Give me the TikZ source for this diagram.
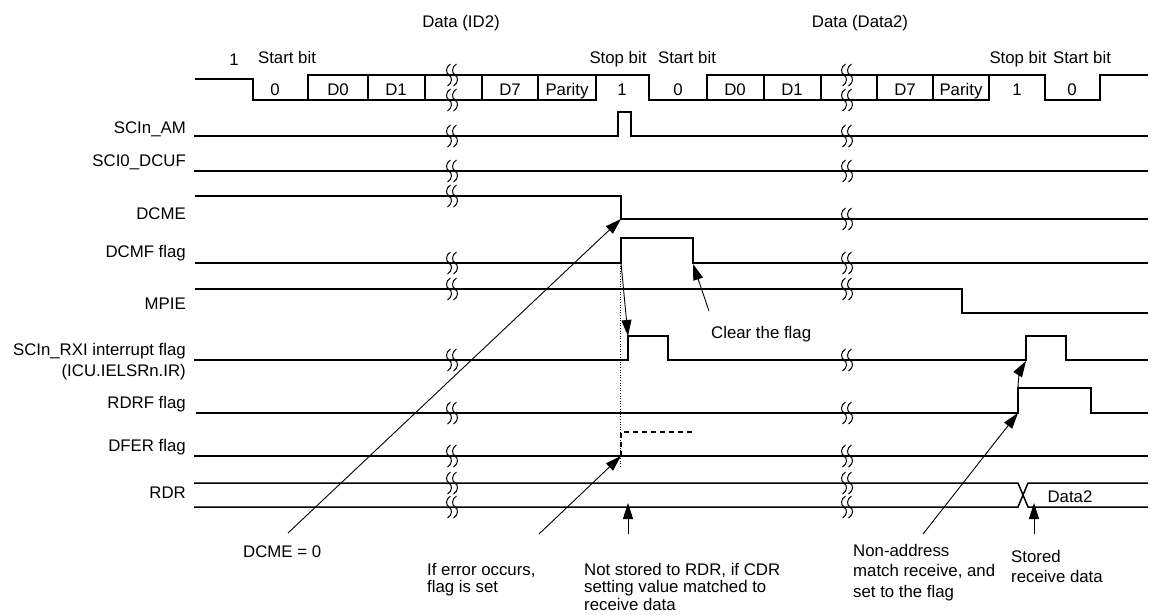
\documentclass[tikz,border=0pt]{standalone}
\usepackage{fontspec}
\setmainfont{Liberation Sans}
\usetikzlibrary{arrows.meta,positioning,calc}

% break mark on a signal line
\newcommand{\wavebreak}[2]{%
  \foreach \dx in {0,6}
    {\draw[brk] (#1+\dx+1.5,#2-11) .. controls (#1+\dx-3.5,#2-8) and (#1+\dx-3.5,#2-2) .. (#1+\dx,#2)
       .. controls (#1+\dx+3.5,#2+2) and (#1+\dx+3.5,#2+8) .. (#1+\dx-1.5,#2+11);}}

\begin{document}
\begin{tikzpicture}[x=1pt, y=-1pt,
  every node/.style={font=\fontsize{16.8}{21}\selectfont, inner sep=0pt},
  sig/.style={line width=1.5pt, line join=miter},
  brk/.style={line width=1pt},
  ann/.style={line width=0.9pt, -{Triangle[length=16pt,width=10pt]}},
  lbl/.style={anchor=base east},
  note/.style={anchor=north west, align=left}]
  \useasboundingbox (0,0) rectangle (1152,614);

  % Frame titles
  \node[anchor=base] (tId) at (461,27) {Data (ID2)};
  \node[anchor=base] (tData) at (860,27) {Data (Data2)};
  \node[anchor=base] (one) at (234,65) {1};
  \node[anchor=base] (start1) at (287,63) {Start bit};
  \node[anchor=base] (stop1) at (618,63) {Stop bit};
  \node[anchor=base] (start2) at (687,63) {Start bit};
  \node[anchor=base] (stop2) at (1018,63) {Stop bit};
  \node[anchor=base] (start3) at (1082,63) {Start bit};

  % Serial frame
  \draw[sig] (195,79) -- (253,79) -- (253,100) -- (596,100) -- (596,75);
  \draw[sig] (308,100) -- (308,75) -- (649,75) -- (649,100) -- (707,100) -- (707,75)
    -- (1045,75) -- (1045,100) -- (1100,100) -- (1100,75) -- (1148,75);
  \draw[sig] (707,100) -- (989,100) -- (989,75);
  \foreach \x in {368,425,482,538,764,821,877,933}
    \draw[sig] (\x,75) -- (\x,100);
  \foreach \x/\t [count=\i] in {275/0,338/D0,396/D1,510/D7,567/Parity,622/1,678/0,
      735/D0,792/D1,905/D7,961/Parity,1017/1,1072/0}
    \node[anchor=base] (bit\i) at (\x,95) {\t};

  % Signal names
  \node[lbl] (nAm) at (186,133) {SCIn\_AM};
  \node[lbl] (nDcuf) at (186,166) {SCI0\_DCUF};
  \node[lbl] (nDcme) at (186,219) {DCME};
  \node[lbl] (nDcmf) at (186,257) {DCMF flag};
  \node[lbl] (nMpie) at (186,309) {MPIE};
  \node[anchor=north east, align=right] (nRxi) at (186,343) {SCIn\_RXI interrupt flag\\(ICU.IELSRn.IR)};
  \node[lbl] (nRdrf) at (186,408) {RDRF flag};
  \node[lbl] (nDfer) at (186,451) {DFER flag};
  \node[lbl] (nRdr) at (186,498) {RDR};

  % Waveforms
  \draw[sig] (194,136) -- (618,136) -- (618,112) -- (631,112) -- (631,136) -- (1148,136);
  \draw[sig] (194,171) -- (1148,171);
  \draw[sig] (195,196) -- (621,196) -- (621,219) -- (1148,219);
  \draw[sig] (195,263) -- (621,263) -- (621,238) -- (693,238) -- (693,263) -- (1148,263);
  \draw[sig] (195,289) -- (962,289) -- (962,313) -- (1148,313);
  \draw[sig] (194,360) -- (628,360) -- (628,336) -- (668,336) -- (668,360) -- (1026,360)
    -- (1026,336) -- (1066,336) -- (1066,360) -- (1148,360);
  \draw[sig] (196,413) -- (1018,413) -- (1018,388) -- (1091,388) -- (1091,413) -- (1148,413);
  \draw[sig] (194,456) -- (1148,456);
  \draw[sig, dash pattern=on 5pt off 4pt] (621,456) -- (621,432) -- (693,432);
  \draw[sig] (194,483) -- (1018,483) -- (1028,507) -- (1148,507);
  \draw[sig] (194,507) -- (1018,507) -- (1028,483) -- (1148,483);
  \node (nData2) at (1070,497) {Data2};
  \draw[line width=0.6pt, dotted] (620,263) -- (620,468);

  % Breaks
  \foreach \y in {75,100,136,171,196,263,289,360,413,456,483,507}
    {\wavebreak{449}{\y}}
  \foreach \y in {75,100,136,171,219,263,289,360,413,456,483,507}
    {\wavebreak{844}{\y}}

  % Notes
  \node[anchor=base west] (noteDcme) at (243,557) {DCME = 0};
  \node[note, font=\fontsize{16.8}{17.5}\selectfont] (noteErr) at (427,563) {If error occurs,\\flag is set};
  \node[note, font=\fontsize{16.8}{17.5}\selectfont] (noteRdr) at (584,563) {Not stored to RDR, if CDR\\setting value matched to\\receive data};
  \node[note, font=\fontsize{16.8}{20.5}\selectfont] (noteAddr) at (853,544) {Non-address\\match receive, and\\set to the flag};
  \node[note, font=\fontsize{16.8}{20}\selectfont] (noteStore) at (1011,550) {Stored\\receive data};
  \node[anchor=base west] (noteClear) at (711,338) {Clear the flag};

  % Arrow ends
  \coordinate (dcmeFall) at (621,219);
  \coordinate (dcmfRise) at (621,263);
  \coordinate (dcmfFall) at (693,264);
  \coordinate (rxiRise) at (628,336);
  \coordinate (dferRise) at (621,456);
  \coordinate (rdrfRise) at (1018,413);
  \coordinate (rdrfTop) at (1018,388);
  \coordinate (rxiRise2) at (1026,361);
  \coordinate (rdrMark) at (628,503);
  \coordinate (rdrMark2) at (1034,503);
  \coordinate (dcmeTail) at (288,533);
  \coordinate (errTail) at (539,534);
  \coordinate (rdrTail) at (628,534);
  \coordinate (addrTail) at (923,534);
  \coordinate (storeTail) at (1034,534);
  \coordinate (clearTail) at (709,311);

  % Arrows
  \draw[ann] (dcmeTail) -- (dcmeFall);
  \draw[ann] (dcmfRise) -- (rxiRise);
  \draw[ann] (clearTail) -- (dcmfFall);
  \draw[ann] (errTail) -- (dferRise);
  \draw[ann] (rdrTail) -- (rdrMark);
  \draw[ann] (addrTail) -- (rdrfRise);
  \draw[ann] (rdrfTop) to[bend left=15] (rxiRise2);
  \draw[ann] (storeTail) -- (rdrMark2);
\end{tikzpicture}
\end{document}
